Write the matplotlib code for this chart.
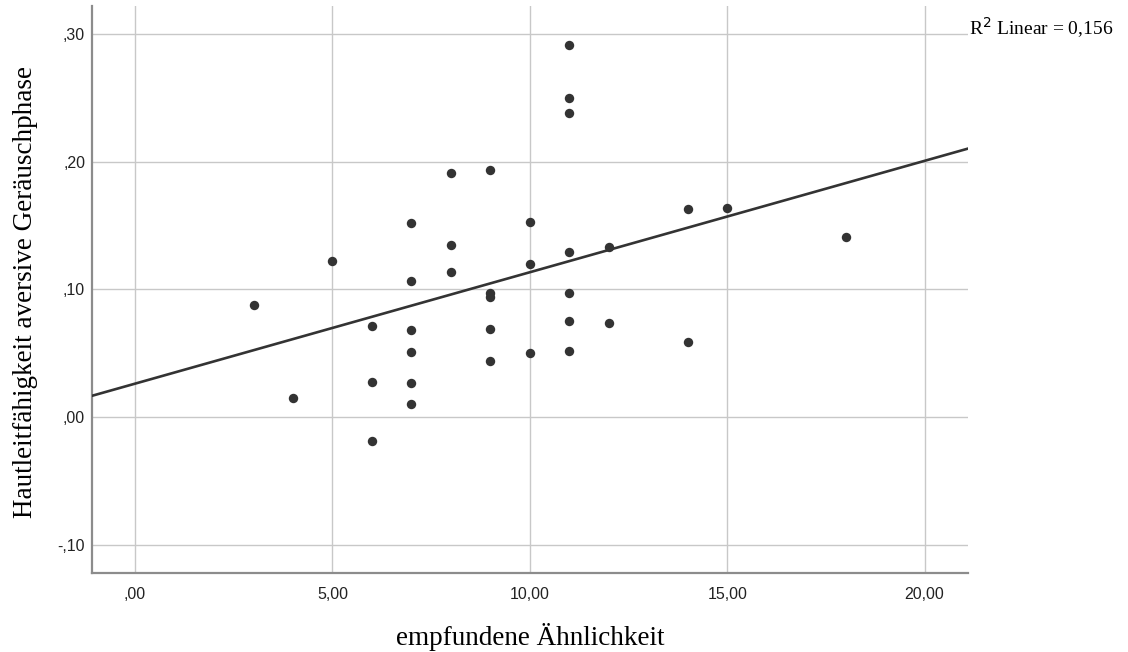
import matplotlib
matplotlib.use('Agg')
import matplotlib.pyplot as plt
import numpy as np

# empfundene Ähnlichkeit vs. Hautleitfähigkeit
x_vals = [3, 4, 5, 6, 6, 6, 7, 7, 7, 7, 7, 7, 8, 8, 8, 9, 9, 9, 9, 9,
          10, 10, 10, 11, 11, 11, 11, 11, 11, 11, 12, 12, 14, 14, 15, 18]
y_vals = [0.0875, 0.0154, 0.122, 0.0718, 0.028, -0.0182,
          0.152, 0.107, 0.068, 0.0513, 0.0273, 0.0108,
          0.191, 0.135, 0.114,
          0.193, 0.097, 0.0945, 0.069, 0.0443,
          0.153, 0.120, 0.0506,
          0.291, 0.250, 0.238, 0.129, 0.097, 0.0755, 0.0517,
          0.133, 0.0737,
          0.163, 0.059, 0.164, 0.141]
x_ticks = [0, 5, 10, 15, 20]
x_labels = [',00', '5,00', '10,00', '15,00', '20,00']
y_ticks = [-0.10, 0.0, 0.10, 0.20, 0.30]
y_labels = ['-,10', ',00', ',10', ',20', ',30']
r2_label = 'R$^2$ Linear = 0,156'

x = np.array(x_vals, dtype=float)
y = np.array(y_vals)
slope, intercept = np.polyfit(x, y, 1)

fig = plt.figure(figsize=(11.28, 6.52), dpi=100)
# axes: links 92px, rechts 968px, oben 6px, unten 573px
ax = fig.add_axes([0.0816, 0.1212, 0.7766, 0.8696])
xmin, xmax = -1.09, 21.1
ax.set_xlim(xmin, xmax)
ax.set_ylim(-0.1215, 0.3215)

ax.grid(True, color='#c8c8c8', linewidth=1.0)
ax.set_axisbelow(True)
for s in ['top', 'right']:
    ax.spines[s].set_visible(False)
for s in ['left', 'bottom']:
    ax.spines[s].set_color('#8c8c8c')
    ax.spines[s].set_linewidth(1.6)

xl = np.array([xmin, xmax])
ax.plot(xl, intercept + slope * xl, color='#333333', lw=1.9, zorder=3)
ax.scatter(x, y, s=46, color='#333333', zorder=4, linewidths=0)

ax.set_xticks(x_ticks)
ax.set_xticklabels(x_labels)
ax.set_yticks(y_ticks)
ax.set_yticklabels(y_labels)
ax.tick_params(length=0, labelsize=11.5, colors='#222222')
ax.tick_params(axis='x', pad=10)
ax.tick_params(axis='y', pad=5)
for lab in ax.get_xticklabels() + ax.get_yticklabels():
    lab.set_family('Liberation Sans')

ax.set_xlabel('empfundene Ähnlichkeit', family='Liberation Serif', fontsize=19.5)
ax.set_ylabel('Hautleitfähigkeit aversive Geräuschphase', family='Liberation Serif', fontsize=19.5)
ax.xaxis.set_label_coords(0.5, -0.088)
ax.yaxis.set_label_coords(-0.062, 0.495)

fig.text(0.859, 0.946, r2_label, family='Liberation Serif', fontsize=14,
         ha='left', va='baseline')

fig.savefig('out.png', dpi=100)
